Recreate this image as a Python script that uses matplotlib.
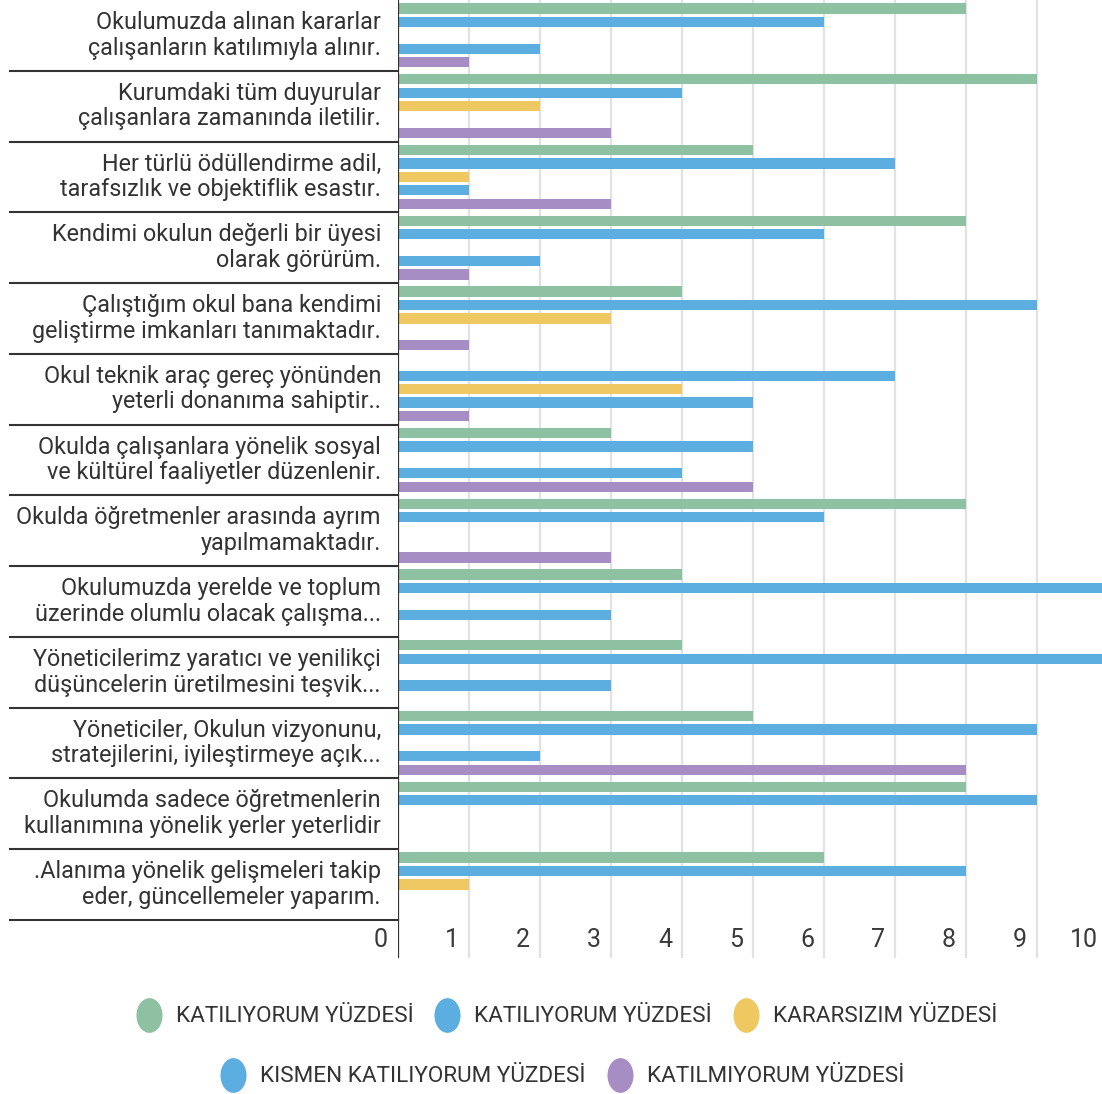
import numpy as np
import matplotlib
matplotlib.use('Agg')
import matplotlib.pyplot as plt
from matplotlib.lines import Line2D
from matplotlib.path import Path
from matplotlib.transforms import Affine2D

plt.rcParams['font.family'] = ['Roboto', 'DejaVu Sans']

# Data
categories = [
    "Okulumuzda alınan kararlar\nçalışanların katılımıyla alınır.",
    "Kurumdaki tüm duyurular\nçalışanlara zamanında iletilir.",
    "Her türlü ödüllendirme adil,\ntarafsızlık ve objektiflik esastır.",
    "Kendimi okulun değerli bir üyesi\nolarak görürüm.",
    "Çalıştığım okul bana kendimi\ngeliştirme imkanları tanımaktadır.",
    "Okul teknik araç gereç yönünden\nyeterli donanıma sahiptir..",
    "Okulda çalışanlara yönelik sosyal\nve kültürel faaliyetler düzenlenir.",
    "Okulda öğretmenler arasında ayrım\nyapılmamaktadır.",
    "Okulumuzda yerelde ve toplum\nüzerinde olumlu olacak çalışma...",
    "Yöneticilerimz yaratıcı ve yenilikçi\ndüşüncelerin üretilmesini teşvik...",
    "Yöneticiler, Okulun vizyonunu,\nstratejilerini, iyileştirmeye açık...",
    "Okulumda sadece öğretmenlerin\nkullanımına yönelik yerler yeterlidir",
    ".Alanıma yönelik gelişmeleri takip\neder, güncellemeler yaparım.",
]
series_names = ['KATILIYORUM YÜZDESİ', 'KATILIYORUM YÜZDESİ', 'KARARSIZIM YÜZDESİ',
                'KISMEN KATILIYORUM YÜZDESİ', 'KATILMIYORUM YÜZDESİ']
katiliyorum_1 = [8, 9, 5, 8, 4, 0, 3, 8, 4, 4, 5, 8, 6]
katiliyorum_2 = [6, 4, 7, 6, 9, 7, 5, 6, 10, 10, 9, 9, 8]
kararsizim = [0, 2, 1, 0, 3, 4, 0, 0, 0, 0, 0, 0, 1]
kismen = [2, 0, 1, 2, 0, 5, 4, 0, 3, 3, 2, 0, 0]
katilmiyorum = [1, 3, 3, 1, 1, 1, 5, 3, 0, 0, 8, 0, 0]
x_ticks = [0, 1, 2, 3, 4, 5, 6, 7, 8, 9, 10]

series = [katiliyorum_1, katiliyorum_2, kararsizim, kismen, katilmiyorum]
colors = ['#8DC1A1', '#5BAEDF', '#F0C862', '#5BAEDF', '#A68DC4']

W, H = 1102, 1094
fig = plt.figure(figsize=(W / 100, H / 100), dpi=100)
ax = fig.add_axes([398 / W, 1 - 958 / H, 710 / W, 958 / H])

n = len(categories)
bottom = 13.54
ax.set_xlim(0, 10)
ax.set_ylim(bottom, 0)

# grid
for k in x_ticks[1:]:
    ax.axvline(k, color='#e2e2e2', linewidth=1.6, zorder=0)

# bars
for j, (vals, c) in enumerate(zip(series, colors)):
    ys = np.arange(n) + 0.12 + 0.19 * j
    ax.barh(ys, vals, height=0.145, color=c, edgecolor='none', zorder=2)

# separators + category labels
xsep = ax.get_yaxis_transform()
for i in range(1, n + 1):
    ax.plot([-388 / 710, 0], [i, i], transform=xsep, color='#333333',
            linewidth=1.5, clip_on=False, zorder=3)
for i, lab in enumerate(categories):
    ax.text(-17 / 710, i + 0.5, lab, transform=xsep, ha='right', va='center',
            fontsize=16.8, color='#333333', linespacing=1.15)

# tick labels
for k in x_ticks:
    ax.text(k - 0.14, 13.28, str(k), ha='right', va='center', fontsize=18,
            color='#3a3a3a')

ax.axvline(0, color='#333333', linewidth=1.6, zorder=4)
for s in ax.spines.values():
    s.set_visible(False)
ax.set_xticks([])
ax.set_yticks([])

# legend
ell = Path.unit_circle().transformed(Affine2D().scale(0.75, 1.0))
handles = [Line2D([], [], linestyle='none', marker=ell, markersize=25,
                  markerfacecolor=c, markeredgecolor='none', label=nm)
           for c, nm in zip(colors, series_names)]
kw = dict(loc='center', frameon=False, fontsize=16.2, labelcolor='#333333',
          handlelength=1.0, handletextpad=0.7, columnspacing=1.0)
fig.legend(handles=handles[:3], ncol=3, bbox_to_anchor=(0.515, 1 - 1017 / H), **kw)
fig.legend(handles=handles[3:], ncol=2, bbox_to_anchor=(0.511, 1 - 1077 / H), **kw)

fig.savefig('out.png', dpi=100)
